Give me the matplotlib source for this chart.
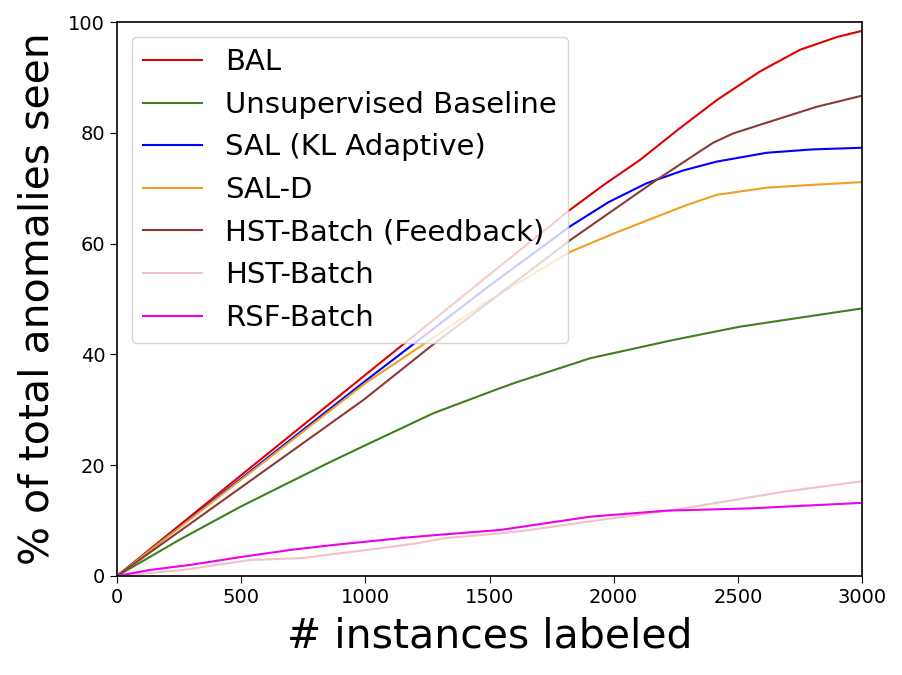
import matplotlib
matplotlib.use("Agg")
import matplotlib.pyplot as plt

# values (x = instances labeled, y = % anomalies seen)
bal_x = [0, 500, 1000, 1500, 1824, 1960, 2106, 2260, 2415, 2590, 2751, 2900, 3000]
bal_y = [0, 18.2, 36.3, 54.4, 66.1, 70.6, 75.1, 80.6, 85.9, 91.1, 95.0, 97.3, 98.4]

unsup_x = [0, 250, 497, 846, 1000, 1275, 1542, 1611, 1905, 2240, 2508, 2791, 3000]
unsup_y = [0, 6.5, 12.5, 20.3, 23.6, 29.4, 33.9, 35.0, 39.3, 42.6, 45.0, 46.9, 48.3]

sal_x = [0, 500, 1000, 1500, 1824, 1980, 2133, 2280, 2415, 2617, 2800, 3000]
sal_y = [0, 17.6, 35.2, 52.4, 63.1, 67.5, 70.9, 73.2, 74.8, 76.4, 77.0, 77.3]

sald_x = [0, 500, 1000, 1500, 1824, 2000, 2147, 2290, 2415, 2617, 2800, 3000]
sald_y = [0, 17.4, 34.8, 49.8, 58.5, 61.8, 64.4, 66.9, 68.8, 70.1, 70.6, 71.1]

hstfb_x = [0, 500, 993, 1262, 1824, 2173, 2400, 2482, 2600, 2818, 3000]
hstfb_y = [0, 16.0, 31.8, 41.4, 60.6, 71.5, 78.2, 79.9, 81.6, 84.7, 86.7]

hst_x = [0, 268, 537, 738, 1007, 1208, 1316, 1542, 1611, 1945, 2240, 2482, 2684, 3000]
hst_y = [0, 1.1, 2.9, 3.2, 4.7, 5.9, 6.8, 7.7, 8.0, 10.1, 11.9, 13.7, 15.2, 17.1]

rsf_x = [0, 134, 295, 510, 698, 872, 1181, 1316, 1542, 1905, 2214, 2549, 3000]
rsf_y = [0, 1.1, 2.0, 3.5, 4.7, 5.6, 7.0, 7.5, 8.3, 10.7, 11.8, 12.2, 13.2]

fig = plt.figure(figsize=(9.03, 6.75), dpi=100)
ax = fig.add_axes([0.1296, 0.1467, 0.825, 0.8207])

ax.plot(bal_x, bal_y, color="#e00000", lw=1.5, label="BAL")
ax.plot(unsup_x, unsup_y, color="#3f7f1f", lw=1.5, label="Unsupervised Baseline")
ax.plot(sal_x, sal_y, color="#0000ff", lw=1.5, label="SAL (KL Adaptive)")
ax.plot(sald_x, sald_y, color="#f0a020", lw=1.5, label="SAL-D")
ax.plot(hstfb_x, hstfb_y, color="#8b3a3a", lw=1.5, label="HST-Batch (Feedback)")
ax.plot(hst_x, hst_y, color="#f4bfc8", lw=1.5, label="HST-Batch")
ax.plot(rsf_x, rsf_y, color="#ee00ee", lw=1.5, label="RSF-Batch")

ax.set_xlim(0, 3000)
ax.set_ylim(0, 100)
ax.set_xticks([0, 500, 1000, 1500, 2000, 2500, 3000])
ax.set_yticks([0, 20, 40, 60, 80, 100])
ax.tick_params(axis="both", which="major", labelsize=14, length=5)
for s in ax.spines.values():
    s.set_linewidth(1.2)

ax.set_xlabel("# instances labeled", fontsize=29.5, labelpad=7)
ax.set_ylabel("% of total anomalies seen", fontsize=29.5, labelpad=8)

ax.legend(loc="upper left", fontsize=21, handlelength=2.0)

fig.savefig("out.png", dpi=100)
